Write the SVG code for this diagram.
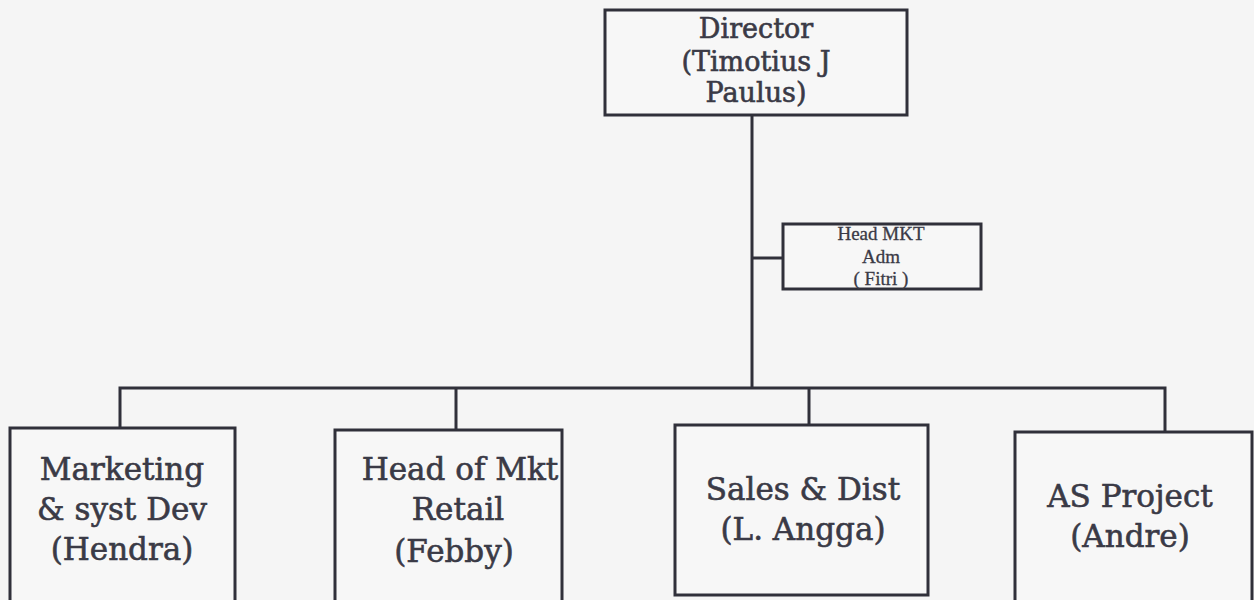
<svg xmlns="http://www.w3.org/2000/svg" width="1254" height="600" viewBox="0 0 1254 600">
<style>
.box{fill:#f7f7f7;stroke:#30303a;stroke-width:3}
.ln{fill:none;stroke:#30303a;stroke-width:3}
.t{font-family:"DejaVu Serif","Liberation Serif",serif;fill:#3a3a46;text-anchor:middle;stroke:#3a3a46;stroke-width:0.6}
.big{font-size:31px}
.dir{font-size:27px}
.sm{font-family:"Liberation Serif",serif;font-size:19px;fill:#3a3a46;text-anchor:middle;stroke:#3a3a46;stroke-width:0.3}
</style>
<rect width="1254" height="600" fill="#f5f5f5"/>
<g id="connectors">
<path class="ln" d="M752 115 V388"/>
<path class="ln" d="M752 258 H783"/>
<path class="ln" d="M120 428 V388 H1165 V432"/>
<path class="ln" d="M456 388 V430"/>
<path class="ln" d="M809 388 V425"/>
</g>
<g id="director">
<rect class="box" x="605" y="10" width="302" height="105"/>
<text class="t dir" x="756" y="38">Director</text>
<text class="t dir" x="756" y="71">(Timotius J</text>
<text class="t dir" x="756" y="102">Paulus)</text>
</g>
<g id="head-mkt-adm">
<rect class="box" x="783" y="224" width="198" height="65"/>
<text class="sm" x="881" y="240">Head MKT</text>
<text class="sm" x="881" y="263">Adm</text>
<text class="sm" x="881" y="285">( Fitri )</text>
</g>
<g id="marketing">
<rect class="box" x="10" y="428" width="225" height="180"/>
<text class="t big" x="122" y="480">Marketing</text>
<text class="t big" x="122" y="520">&amp; syst Dev</text>
<text class="t big" x="122" y="560">(Hendra)</text>
</g>
<g id="retail">
<rect class="box" x="335" y="430" width="227" height="180"/>
<text class="t big" x="460" y="480">Head of Mkt</text>
<text class="t big" x="458" y="520">Retail</text>
<text class="t big" x="454" y="562">(Febby)</text>
</g>
<g id="sales">
<rect class="box" x="675" y="425" width="253" height="170"/>
<text class="t big" x="803" y="500">Sales &amp; Dist</text>
<text class="t big" x="803" y="540">(L. Angga)</text>
</g>
<g id="as-project">
<rect class="box" x="1015" y="432" width="237" height="180"/>
<text class="t big" x="1130" y="507">AS Project</text>
<text class="t big" x="1130" y="547">(Andre)</text>
</g>
</svg>
